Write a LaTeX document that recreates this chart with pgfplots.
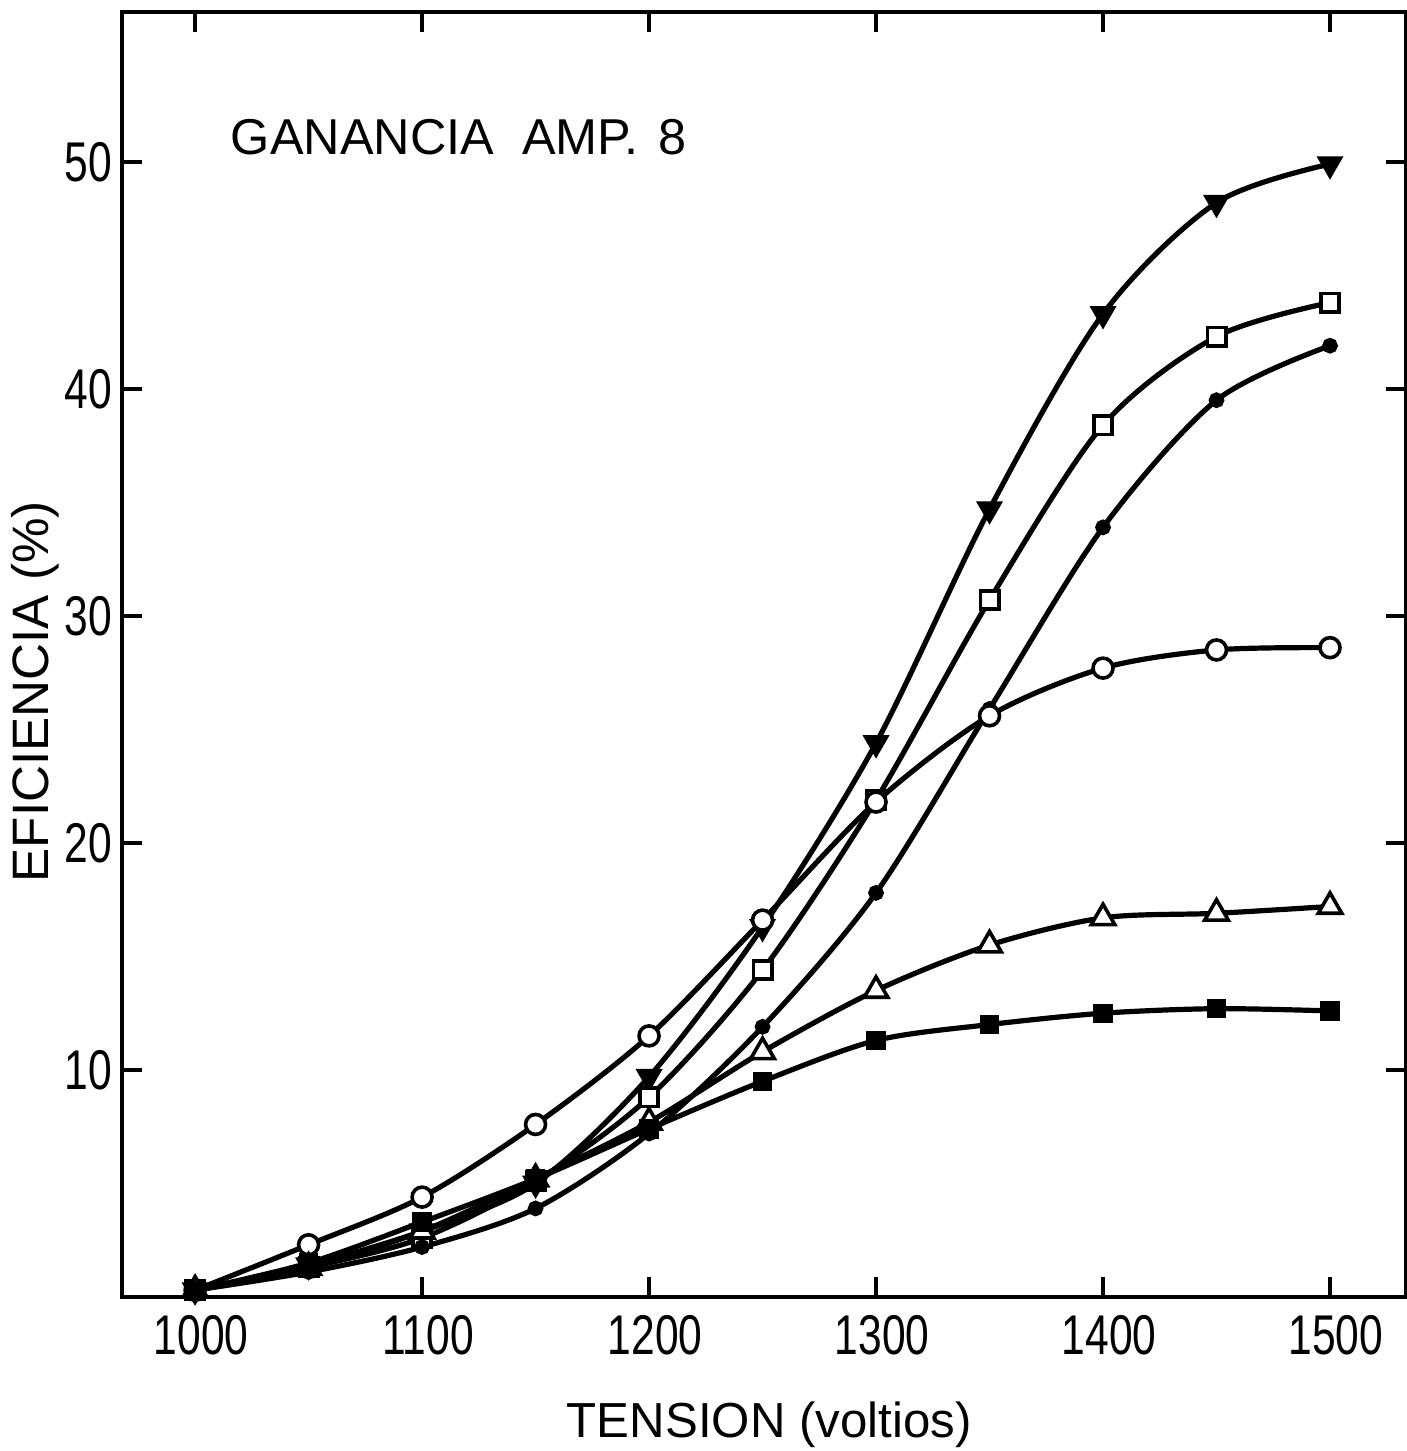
\documentclass[border=0pt]{standalone}
\usepackage{pgfplots}
\pgfplotsset{compat=1.18}
\usepackage{fontspec}
\setmainfont{Liberation Sans}
\newfontfamily\tickfont[FakeStretch=0.76]{Liberation Sans}
\begin{document}
\begin{tikzpicture}
\begin{axis}[
  scale only axis,
  width=321pt, height=321.25pt,
  xmin=967.8, xmax=1533.5,
  ymin=0, ymax=56.6,
  xtick={1000,1100,1200,1300,1400,1500},
  ytick={10,20,30,40,50},
  tick align=inside,
  major tick length=5pt,
  tick style={line width=1pt, black},
  axis line style={line width=1pt},
  tick pos=both,
  xticklabel pos=bottom,
  yticklabel pos=left,
  /pgf/number format/assume math mode=true,
  /pgf/number format/set thousands separator={},
  ticklabel style={font=\tickfont\fontsize{14}{16}\selectfont},
  xticklabel style={yshift=-1pt, xshift=1.5pt},
  yticklabel style={xshift=1pt},
  xlabel={TENSION (voltios)},
  ylabel={EFICIENCIA (\%)},
  x label style={font=\fontsize{12.3}{15}\selectfont, at={(axis description cs:0.504,-0.0996)}, anchor=center},
  y label style={font=\fontsize{12.8}{15}\selectfont, at={(axis description cs:-0.0678,0.471)}, anchor=center},
  every axis plot/.append style={line width=1.3pt, black, smooth},
]
% filled triangle down
\addplot[mark=triangle*, mark options={rotate=180, mark size=3.3pt, fill=black, line width=0.6pt}] coordinates {
(1000,0.3)(1050,1.4)(1100,2.9)(1150,5.0)(1200,9.7)(1250,16.3)(1300,24.4)(1350,34.7)(1400,43.3)(1450,48.2)(1500,49.9)};
% open square
\addplot[mark=square*, mark options={mark size=2.3pt, fill=white, line width=0.9pt}] coordinates {
(1000,0.3)(1050,1.3)(1100,2.6)(1150,5.1)(1200,8.8)(1250,14.4)(1300,21.9)(1350,30.7)(1400,38.4)(1450,42.3)(1500,43.8)};
% small filled dot
\addplot[mark=*, mark options={mark size=1.3pt, fill=black}] coordinates {
(1000,0.3)(1050,1.1)(1100,2.2)(1150,3.9)(1200,7.2)(1250,11.9)(1300,17.8)(1350,25.9)(1400,33.9)(1450,39.5)(1500,41.9)};
% open circle
\addplot[mark=*, mark options={mark size=2.5pt, fill=white, line width=0.9pt}] coordinates {
(1000,0.3)(1050,2.3)(1100,4.4)(1150,7.6)(1200,11.5)(1250,16.6)(1300,21.8)(1350,25.6)(1400,27.7)(1450,28.5)(1500,28.6)};
% open triangle up
\addplot[mark=triangle*, mark options={mark size=3.4pt, fill=white, line width=0.9pt}] coordinates {
(1000,0.3)(1050,1.3)(1100,2.9)(1150,5.2)(1200,7.7)(1250,10.8)(1300,13.5)(1350,15.5)(1400,16.7)(1450,16.9)(1500,17.2)};
% filled square
\addplot[mark=square*, mark options={mark size=2.1pt, fill=black, line width=0.6pt}] coordinates {
(1000,0.3)(1050,1.5)(1100,3.3)(1150,5.2)(1200,7.4)(1250,9.5)(1300,11.3)(1350,12.0)(1400,12.5)(1450,12.7)(1500,12.6)};
\node[anchor=west, inner sep=0pt, font=\fontsize{12.6}{15}\selectfont] at (axis description cs:0.0841,0.9027) {GANANCIA\hspace{7pt}AMP.\hspace{5pt}8};
\end{axis}
\pgfresetboundingbox
\path[use as bounding box] (-30.5pt,-38.5pt) rectangle (321pt,324.25pt);
\end{tikzpicture}
\end{document}
